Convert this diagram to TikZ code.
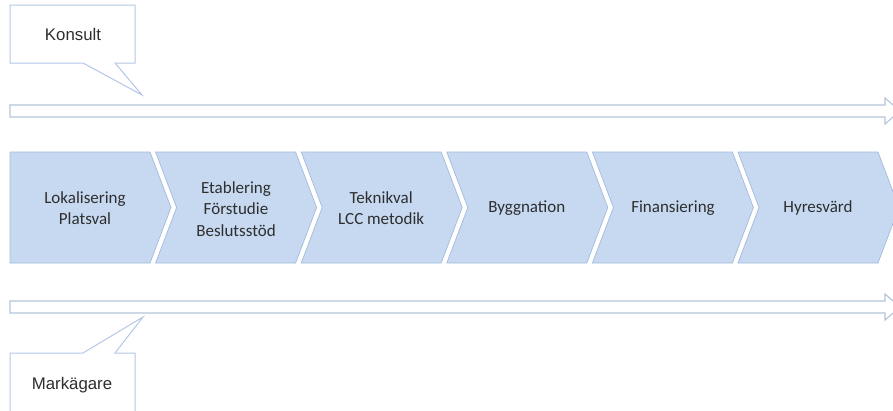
\documentclass[tikz,border=0pt]{standalone}
\usepackage{fontspec}
\setmainfont{Carlito}
\newfontfamily\calloutfont{Liberation Sans}
\definecolor{chevfill}{HTML}{C6D9F1}
\definecolor{chevline}{HTML}{A3BBDC}
\definecolor{calline}{HTML}{B4C7E7}
\definecolor{arrline}{HTML}{B4C4DA}
\definecolor{txt}{HTML}{2E2E2E}
\begin{document}
\begin{tikzpicture}[x=1pt,y=-1pt,
  chev/.style={fill=chevfill,draw=chevline,line width=0.7pt,line join=miter},
  lbl/.style={font=\fontsize{17}{21.5}\selectfont,text=txt,align=center,inner sep=0pt},
  callout/.style={draw=calline,line width=1pt,fill=white,line join=miter},
  ctext/.style={font=\calloutfont\fontsize{16.8}{19}\selectfont,text=txt,inner sep=0pt},
  blockarrow/.style={draw=arrline,line width=1.1pt,fill=white,line join=miter}]
\useasboundingbox (0,0) rectangle (893,410);
\clip (0,0) rectangle (893,410);
% block arrows
\draw[blockarrow] (10,105) -- (885,105) -- (885,98) -- (900,111) -- (885,124) -- (885,117) -- (10,117) -- cycle;
\draw[blockarrow] (10,301) -- (885,301) -- (885,294) -- (900,307) -- (885,320) -- (885,313) -- (10,313) -- cycle;
% callouts
\draw[callout] (10,5) -- (135,5) -- (135,63) -- (115,63) -- (142,95) -- (83,63) -- (10,63) -- cycle;
\node[ctext] (konsult) at (73,34) {Konsult};
\draw[callout] (10,353) -- (83,353) -- (143,317) -- (115,353) -- (135,353) -- (135,413) -- (10,413) -- cycle;
\node[ctext] (markagare) at (72,385) {Markägare};
% chevrons
\draw[chev] (10,152) -- (150,152) -- (171,207.5) -- (150,263) -- (10,263) -- cycle;
\foreach \s in {155.6,301.2,446.8,592.4,738}{
  \draw[chev] (\s,152) -- (\s+140,152) -- (\s+161,207.5) -- (\s+140,263) -- (\s,263) -- (\s+21,207.5) -- cycle;
}
\node[lbl] (c1) at (85,208) {Lokalisering\\Platsval};
\node[lbl] (c2) at (236,209) {Etablering\\Förstudie\\Beslutsstöd};
\node[lbl] (c3) at (381.2,208) {Teknikval\\LCC metodik};
\node[lbl] (c4) at (526.8,208) {Byggnation};
\node[lbl] (c5) at (673,208) {Finansiering};
\node[lbl] (c6) at (818,208) {Hyresvärd};
\end{tikzpicture}
\end{document}
